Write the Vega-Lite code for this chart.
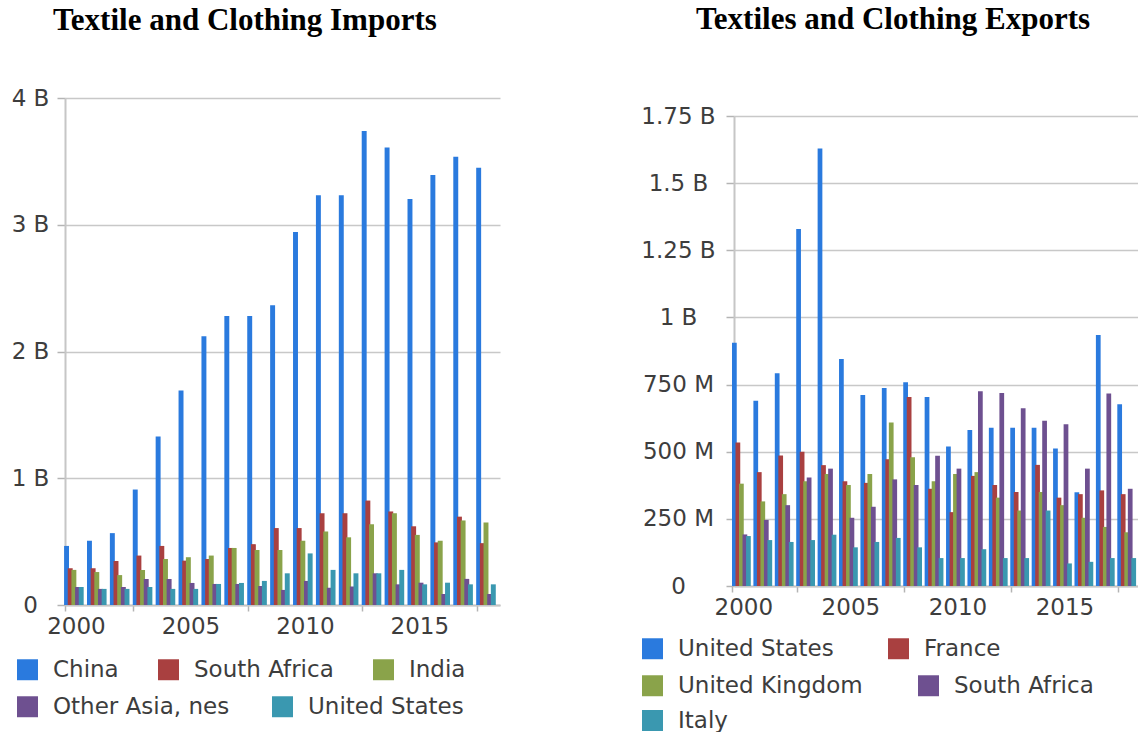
{
  "$schema": "https://vega.github.io/schema/vega-lite/v6.json",
  "padding": {"left": 11, "top": 4, "right": 0, "bottom": 0},
  "spacing": 140,
  "datasets": {
    "imports": [
      {"year": 2000, "partner": "China", "value": 466}, {"year": 2000, "partner": "South Africa", "value": 290}, {"year": 2000, "partner": "India", "value": 277}, {"year": 2000, "partner": "Other Asia, nes", "value": 142}, {"year": 2000, "partner": "United States", "value": 142},
      {"year": 2001, "partner": "China", "value": 507}, {"year": 2001, "partner": "South Africa", "value": 290}, {"year": 2001, "partner": "India", "value": 260}, {"year": 2001, "partner": "Other Asia, nes", "value": 127}, {"year": 2001, "partner": "United States", "value": 127},
      {"year": 2002, "partner": "China", "value": 567}, {"year": 2002, "partner": "South Africa", "value": 347}, {"year": 2002, "partner": "India", "value": 236}, {"year": 2002, "partner": "Other Asia, nes", "value": 142}, {"year": 2002, "partner": "United States", "value": 127},
      {"year": 2003, "partner": "China", "value": 911}, {"year": 2003, "partner": "South Africa", "value": 390}, {"year": 2003, "partner": "India", "value": 276}, {"year": 2003, "partner": "Other Asia, nes", "value": 205}, {"year": 2003, "partner": "United States", "value": 142},
      {"year": 2004, "partner": "China", "value": 1329}, {"year": 2004, "partner": "South Africa", "value": 466}, {"year": 2004, "partner": "India", "value": 363}, {"year": 2004, "partner": "Other Asia, nes", "value": 205}, {"year": 2004, "partner": "United States", "value": 127},
      {"year": 2005, "partner": "China", "value": 1692}, {"year": 2005, "partner": "South Africa", "value": 350}, {"year": 2005, "partner": "India", "value": 377}, {"year": 2005, "partner": "Other Asia, nes", "value": 174}, {"year": 2005, "partner": "United States", "value": 127},
      {"year": 2006, "partner": "China", "value": 2120}, {"year": 2006, "partner": "South Africa", "value": 363}, {"year": 2006, "partner": "India", "value": 390}, {"year": 2006, "partner": "Other Asia, nes", "value": 166}, {"year": 2006, "partner": "United States", "value": 166},
      {"year": 2007, "partner": "China", "value": 2280}, {"year": 2007, "partner": "South Africa", "value": 450}, {"year": 2007, "partner": "India", "value": 450}, {"year": 2007, "partner": "Other Asia, nes", "value": 166}, {"year": 2007, "partner": "United States", "value": 174},
      {"year": 2008, "partner": "China", "value": 2280}, {"year": 2008, "partner": "South Africa", "value": 480}, {"year": 2008, "partner": "India", "value": 434}, {"year": 2008, "partner": "Other Asia, nes", "value": 150}, {"year": 2008, "partner": "United States", "value": 190},
      {"year": 2009, "partner": "China", "value": 2365}, {"year": 2009, "partner": "South Africa", "value": 607}, {"year": 2009, "partner": "India", "value": 434}, {"year": 2009, "partner": "Other Asia, nes", "value": 119}, {"year": 2009, "partner": "United States", "value": 250},
      {"year": 2010, "partner": "China", "value": 2942}, {"year": 2010, "partner": "South Africa", "value": 607}, {"year": 2010, "partner": "India", "value": 507}, {"year": 2010, "partner": "Other Asia, nes", "value": 190}, {"year": 2010, "partner": "United States", "value": 407},
      {"year": 2011, "partner": "China", "value": 3233}, {"year": 2011, "partner": "South Africa", "value": 724}, {"year": 2011, "partner": "India", "value": 580}, {"year": 2011, "partner": "Other Asia, nes", "value": 136}, {"year": 2011, "partner": "United States", "value": 277},
      {"year": 2012, "partner": "China", "value": 3233}, {"year": 2012, "partner": "South Africa", "value": 724}, {"year": 2012, "partner": "India", "value": 534}, {"year": 2012, "partner": "Other Asia, nes", "value": 146}, {"year": 2012, "partner": "United States", "value": 250},
      {"year": 2013, "partner": "China", "value": 3740}, {"year": 2013, "partner": "South Africa", "value": 824}, {"year": 2013, "partner": "India", "value": 637}, {"year": 2013, "partner": "Other Asia, nes", "value": 250}, {"year": 2013, "partner": "United States", "value": 250},
      {"year": 2014, "partner": "China", "value": 3610}, {"year": 2014, "partner": "South Africa", "value": 738}, {"year": 2014, "partner": "India", "value": 724}, {"year": 2014, "partner": "Other Asia, nes", "value": 163}, {"year": 2014, "partner": "United States", "value": 277},
      {"year": 2015, "partner": "China", "value": 3203}, {"year": 2015, "partner": "South Africa", "value": 621}, {"year": 2015, "partner": "India", "value": 553}, {"year": 2015, "partner": "Other Asia, nes", "value": 176}, {"year": 2015, "partner": "United States", "value": 163},
      {"year": 2016, "partner": "China", "value": 3393}, {"year": 2016, "partner": "South Africa", "value": 494}, {"year": 2016, "partner": "India", "value": 507}, {"year": 2016, "partner": "Other Asia, nes", "value": 87}, {"year": 2016, "partner": "United States", "value": 176},
      {"year": 2017, "partner": "China", "value": 3536}, {"year": 2017, "partner": "South Africa", "value": 697}, {"year": 2017, "partner": "India", "value": 667}, {"year": 2017, "partner": "Other Asia, nes", "value": 206}, {"year": 2017, "partner": "United States", "value": 163},
      {"year": 2018, "partner": "China", "value": 3450}, {"year": 2018, "partner": "South Africa", "value": 488}, {"year": 2018, "partner": "India", "value": 651}, {"year": 2018, "partner": "Other Asia, nes", "value": 87}, {"year": 2018, "partner": "United States", "value": 163}
    ],
    "exports": [
      {"year": 2000, "partner": "United States", "value": 906}, {"year": 2000, "partner": "France", "value": 534}, {"year": 2000, "partner": "United Kingdom", "value": 381}, {"year": 2000, "partner": "South Africa", "value": 192}, {"year": 2000, "partner": "Italy", "value": 186},
      {"year": 2001, "partner": "United States", "value": 690}, {"year": 2001, "partner": "France", "value": 424}, {"year": 2001, "partner": "United Kingdom", "value": 315}, {"year": 2001, "partner": "South Africa", "value": 246}, {"year": 2001, "partner": "Italy", "value": 171},
      {"year": 2002, "partner": "United States", "value": 792}, {"year": 2002, "partner": "France", "value": 486}, {"year": 2002, "partner": "United Kingdom", "value": 342}, {"year": 2002, "partner": "South Africa", "value": 301}, {"year": 2002, "partner": "Italy", "value": 164},
      {"year": 2003, "partner": "United States", "value": 1329}, {"year": 2003, "partner": "France", "value": 500}, {"year": 2003, "partner": "United Kingdom", "value": 390}, {"year": 2003, "partner": "South Africa", "value": 404}, {"year": 2003, "partner": "Italy", "value": 171},
      {"year": 2004, "partner": "United States", "value": 1629}, {"year": 2004, "partner": "France", "value": 450}, {"year": 2004, "partner": "United Kingdom", "value": 417}, {"year": 2004, "partner": "South Africa", "value": 437}, {"year": 2004, "partner": "Italy", "value": 191},
      {"year": 2005, "partner": "United States", "value": 845}, {"year": 2005, "partner": "France", "value": 390}, {"year": 2005, "partner": "United Kingdom", "value": 376}, {"year": 2005, "partner": "South Africa", "value": 254}, {"year": 2005, "partner": "Italy", "value": 144},
      {"year": 2006, "partner": "United States", "value": 711}, {"year": 2006, "partner": "France", "value": 384}, {"year": 2006, "partner": "United Kingdom", "value": 417}, {"year": 2006, "partner": "South Africa", "value": 295}, {"year": 2006, "partner": "Italy", "value": 164},
      {"year": 2007, "partner": "United States", "value": 737}, {"year": 2007, "partner": "France", "value": 472}, {"year": 2007, "partner": "United Kingdom", "value": 609}, {"year": 2007, "partner": "South Africa", "value": 397}, {"year": 2007, "partner": "Italy", "value": 179},
      {"year": 2008, "partner": "United States", "value": 759}, {"year": 2008, "partner": "France", "value": 704}, {"year": 2008, "partner": "United Kingdom", "value": 479}, {"year": 2008, "partner": "South Africa", "value": 376}, {"year": 2008, "partner": "Italy", "value": 144},
      {"year": 2009, "partner": "United States", "value": 704}, {"year": 2009, "partner": "France", "value": 362}, {"year": 2009, "partner": "United Kingdom", "value": 390}, {"year": 2009, "partner": "South Africa", "value": 485}, {"year": 2009, "partner": "Italy", "value": 104},
      {"year": 2010, "partner": "United States", "value": 519}, {"year": 2010, "partner": "France", "value": 275}, {"year": 2010, "partner": "United Kingdom", "value": 417}, {"year": 2010, "partner": "South Africa", "value": 437}, {"year": 2010, "partner": "Italy", "value": 104},
      {"year": 2011, "partner": "United States", "value": 581}, {"year": 2011, "partner": "France", "value": 410}, {"year": 2011, "partner": "United Kingdom", "value": 424}, {"year": 2011, "partner": "South Africa", "value": 725}, {"year": 2011, "partner": "Italy", "value": 137},
      {"year": 2012, "partner": "United States", "value": 589}, {"year": 2012, "partner": "France", "value": 376}, {"year": 2012, "partner": "United Kingdom", "value": 329}, {"year": 2012, "partner": "South Africa", "value": 719}, {"year": 2012, "partner": "Italy", "value": 104},
      {"year": 2013, "partner": "United States", "value": 589}, {"year": 2013, "partner": "France", "value": 350}, {"year": 2013, "partner": "United Kingdom", "value": 281}, {"year": 2013, "partner": "South Africa", "value": 662}, {"year": 2013, "partner": "Italy", "value": 104},
      {"year": 2014, "partner": "United States", "value": 589}, {"year": 2014, "partner": "France", "value": 451}, {"year": 2014, "partner": "United Kingdom", "value": 350}, {"year": 2014, "partner": "South Africa", "value": 615}, {"year": 2014, "partner": "Italy", "value": 281},
      {"year": 2015, "partner": "United States", "value": 512}, {"year": 2015, "partner": "France", "value": 329}, {"year": 2015, "partner": "United Kingdom", "value": 301}, {"year": 2015, "partner": "South Africa", "value": 602}, {"year": 2015, "partner": "Italy", "value": 84},
      {"year": 2016, "partner": "United States", "value": 349}, {"year": 2016, "partner": "France", "value": 342}, {"year": 2016, "partner": "United Kingdom", "value": 254}, {"year": 2016, "partner": "South Africa", "value": 437}, {"year": 2016, "partner": "Italy", "value": 90},
      {"year": 2017, "partner": "United States", "value": 935}, {"year": 2017, "partner": "France", "value": 356}, {"year": 2017, "partner": "United Kingdom", "value": 220}, {"year": 2017, "partner": "South Africa", "value": 717}, {"year": 2017, "partner": "Italy", "value": 104},
      {"year": 2018, "partner": "United States", "value": 677}, {"year": 2018, "partner": "France", "value": 342}, {"year": 2018, "partner": "United Kingdom", "value": 200}, {"year": 2018, "partner": "South Africa", "value": 362}, {"year": 2018, "partner": "Italy", "value": 104}
    ]
  },
  "config": {
    "view": {"stroke": null},
    "font": "DejaVu Sans",
    "axis": {
      "labelFont": "DejaVu Sans",
      "labelFontSize": 23,
      "labelColor": "#3d3d3d",
      "domainColor": "#c6c6c6",
      "domainWidth": 2,
      "gridColor": "#c8c8c8",
      "gridWidth": 1.5,
      "tickColor": "#b4b4b4",
      "tickWidth": 1.5
    },
    "legend": {
      "labelFont": "DejaVu Sans",
      "labelFontSize": 23,
      "labelColor": "#3d3d3d",
      "labelLimit": 400,
      "labelOffset": 14,
      "symbolType": "square",
      "symbolSize": 440,
      "symbolStrokeWidth": 0,
      "title": null,
      "orient": "none",
      "direction": "horizontal"
    },
    "title": {
      "font": "Liberation Serif",
      "fontSize": 31,
      "fontWeight": "bold",
      "color": "#000000",
      "anchor": "start",
      "frame": "group"
    }
  },
  "resolve": {"scale": {"color": "independent", "xOffset": "independent"}},
  "hconcat": [
    {
      "width": 435,
      "height": 507,
      "title": {"text": "Textile and Clothing Imports ", "dx": -12, "offset": 50},
      "data": {"name": "imports"},
      "encoding": {
        "x": {
          "field": "year",
          "type": "ordinal",
          "scale": {"paddingInner": 0.2, "paddingOuter": 0.1},
          "axis": {
            "values": [2000, 2003, 2005, 2008, 2010, 2013, 2015, 2018],
            "labelExpr": "datum.value % 5 == 0 ? datum.label : ''",
            "labelAngle": 0,
            "bandPosition": -0.12,
            "tickSize": 6,
            "tickColor": {"condition": {"test": "datum.value % 5 == 3 || datum.value == 2000", "value": "#b4b4b4"}, "value": "transparent"},
            "labelPadding": 4,
            "title": null,
            "grid": false
          }
        },
        "xOffset": {
          "field": "partner",
          "type": "nominal",
          "scale": {"domain": ["China", "South Africa", "India", "Other Asia, nes", "United States"], "paddingInner": 0, "paddingOuter": 0}
        },
        "y": {
          "field": "value",
          "type": "quantitative",
          "scale": {"domain": [0, 4000]},
          "axis": {
            "values": [0, 1000, 2000, 3000, 4000],
            "labelExpr": "datum.value == 0 ? '0' : datum.value / 1000 + ' B'",
            "labelAlign": "center",
            "tickSize": 8,
            "labelPadding": 27,
            "title": null
          }
        }
      },
      "layer": [
        {
          "transform": [{"filter": {"field": "partner", "oneOf": ["China", "South Africa", "India"]}}],
          "mark": {"type": "bar", "width": {"band": 1.35}},
          "encoding": {
            "color": {
              "field": "partner",
              "type": "nominal",
              "scale": {"domain": ["China", "South Africa", "India"], "range": ["#2a7ade", "#a94040", "#8aa34a"]},
              "legend": {"legendX": -49, "legendY": 560, "columnPadding": 38}
            }
          }
        },
        {
          "transform": [{"filter": {"field": "partner", "oneOf": ["Other Asia, nes", "United States"]}}],
          "mark": {"type": "bar", "width": {"band": 1.35}},
          "encoding": {
            "color": {
              "field": "partner",
              "type": "nominal",
              "scale": {"domain": ["Other Asia, nes", "United States"], "range": ["#6e5090", "#3a98b0"]},
              "legend": {"legendX": -49, "legendY": 597, "columnPadding": 41}
            }
          }
        }
      ],
      "resolve": {"scale": {"color": "independent"}}
    },
    {
      "width": 405,
      "height": 488,
      "title": {"text": "Textiles and Clothing Exports", "dx": -38, "offset": 62},
      "data": {"name": "exports"},
      "encoding": {
        "x": {
          "field": "year",
          "type": "ordinal",
          "scale": {"paddingInner": 0.18, "paddingOuter": 0.05},
          "axis": {
            "values": [2000, 2003, 2005, 2008, 2010, 2013, 2015, 2018],
            "labelExpr": "datum.value % 5 == 0 ? datum.label : ''",
            "labelAngle": 0,
            "bandPosition": -0.12,
            "tickSize": 6,
            "tickColor": {"condition": {"test": "datum.value % 5 == 3 || datum.value == 2000", "value": "#b4b4b4"}, "value": "transparent"},
            "labelPadding": 4,
            "title": null,
            "grid": false
          }
        },
        "xOffset": {
          "field": "partner",
          "type": "nominal",
          "scale": {"domain": ["United States", "France", "United Kingdom", "South Africa", "Italy"], "paddingInner": 0, "paddingOuter": 0}
        },
        "y": {
          "field": "value",
          "type": "quantitative",
          "scale": {"domain": [0, 1750], "range": [488, 18]},
          "axis": {
            "values": [0, 250, 500, 750, 1000, 1250, 1500, 1750],
            "labelExpr": "datum.value == 0 ? '0' : datum.value >= 1000 ? datum.value / 1000 + ' B' : datum.value + ' M'",
            "labelAlign": "center",
            "tickSize": 8,
            "labelPadding": 48,
            "title": null
          }
        }
      },
      "layer": [
        {
          "transform": [{"filter": {"field": "partner", "oneOf": ["United States", "France"]}}],
          "mark": {"type": "bar", "width": {"band": 1.35}},
          "encoding": {
            "color": {
              "field": "partner",
              "type": "nominal",
              "scale": {"domain": ["United States", "France"], "range": ["#2a7ade", "#a94040"]},
              "legend": {"legendX": -93, "legendY": 539, "columnPadding": 53}
            }
          }
        },
        {
          "transform": [{"filter": {"field": "partner", "oneOf": ["United Kingdom", "South Africa"]}}],
          "mark": {"type": "bar", "width": {"band": 1.35}},
          "encoding": {
            "color": {
              "field": "partner",
              "type": "nominal",
              "scale": {"domain": ["United Kingdom", "South Africa"], "range": ["#8aa34a", "#6e5090"]},
              "legend": {"legendX": -93, "legendY": 576, "columnPadding": 54}
            }
          }
        },
        {
          "transform": [{"filter": {"field": "partner", "equal": "Italy"}}],
          "mark": {"type": "bar", "width": {"band": 1.35}},
          "encoding": {
            "color": {
              "field": "partner",
              "type": "nominal",
              "scale": {"domain": ["Italy"], "range": ["#3a98b0"]},
              "legend": {"legendX": -93, "legendY": 611}
            }
          }
        }
      ],
      "resolve": {"scale": {"color": "independent"}}
    }
  ]
}
